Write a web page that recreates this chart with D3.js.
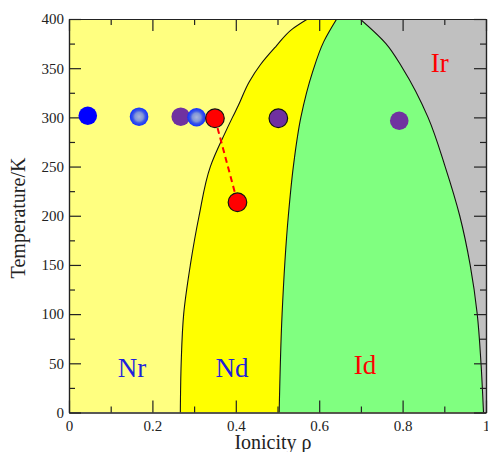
<!DOCTYPE html>
<html>
<head>
<meta charset="utf-8">
<script src="https://cdn.jsdelivr.net/npm/d3@7"></script>
<style>
  html, body { margin: 0; padding: 0; background: #fff; }
  svg { display: block; }
  .ax text { font-family: "Liberation Serif", "Times New Roman", serif !important; font-size: 15px !important; }
</style>
</head>
<body>
<script>
// phase boundaries (temperature K -> ionicity rho)
const ndLeftT   = [0, 50, 100, 150, 200, 250, 284, 300, 312, 336, 353, 372, 390, 400];
const ndLeftRho = [0.267, 0.269, 0.275, 0.291, 0.312, 0.339, 0.374, 0.392, 0.406, 0.432, 0.458, 0.496, 0.536, 0.572];

const idLeftT   = [0, 100, 200, 250, 300, 346, 377, 400];
const idLeftRho = [0.504, 0.511, 0.526, 0.538, 0.556, 0.584, 0.611, 0.642];

const idRightT   = [400, 375, 350, 300, 250, 200, 150, 100, 50, 0];
const idRightRho = [0.698, 0.760, 0.800, 0.861, 0.902, 0.937, 0.962, 0.979, 0.988, 0.994];

// measured points
const blueSolidRho = [0.045];
const blueSolidT   = [301.7];
const blueRingRho  = [0.168, 0.306];
const blueRingT    = [300.7, 300.1];
const purpleRho    = [0.268, 0.792];
const purpleT      = [300.7, 296.6];
const purpleEdgeRho = [0.502];
const purpleEdgeT   = [299.1];
const redRho = [0.350, 0.404];
const redT   = [299.1, 213.7];

// axes
const xMajor = [0, 0.2, 0.4, 0.6, 0.8, 1];
const xMinor = [0.1, 0.3, 0.5, 0.7, 0.9];
const xTickLabels = ["0", "0.2", "0.4", "0.6", "0.8", "1"];
const yMajor = [0, 50, 100, 150, 200, 250, 300, 350, 400];
const yMinor = [25, 75, 125, 175, 225, 275, 325, 375];

const phaseNames = ["Nr", "Nd", "Id", "Ir"];
const phaseRho   = [0.151, 0.391, 0.710, 0.889];
const phaseT     = [36, 36, 39, 346];

const W = 488, H = 452;
const mLeft = 69, mRight = 486, mTop = 19, mBottom = 412.5;
const serif = "'Liberation Serif', 'Times New Roman', serif";

const svg = d3.select("body").append("svg")
  .attr("width", W).attr("height", H);

const x = d3.scaleLinear().domain([0, 1]).range([mLeft, mRight]);
const y = d3.scaleLinear().domain([0, 400]).range([mBottom, mTop]);

const pts = (rho, t) => rho.map((r, i) => [r, t[i]]);
const curve = d3.line()
  .x(d => x(d[0])).y(d => y(d[1]))
  .curve(d3.curveMonotoneY);

const defs = svg.append("defs");
defs.append("clipPath").attr("id", "plot")
  .append("rect")
  .attr("x", mLeft).attr("y", mTop)
  .attr("width", mRight - mLeft).attr("height", mBottom - mTop);

const grad = defs.append("radialGradient").attr("id", "ring");
grad.append("stop").attr("offset", "0%").attr("stop-color", "#a8b4dc");
grad.append("stop").attr("offset", "45%").attr("stop-color", "#8094d8");
grad.append("stop").attr("offset", "68%").attr("stop-color", "#3a56e8");
grad.append("stop").attr("offset", "100%").attr("stop-color", "#1030ff");

defs.append("filter").attr("id", "soft")
  .append("feGaussianBlur").attr("stdDeviation", 0.6);

const plot = svg.append("g").attr("clip-path", "url(#plot)");

// Nr background
plot.append("rect")
  .attr("x", mLeft).attr("y", mTop)
  .attr("width", mRight - mLeft).attr("height", mBottom - mTop)
  .attr("fill", "#ffff80");

const ndLeft = pts(ndLeftRho, ndLeftT);
const idLeft = pts(idLeftRho, idLeftT);
const idRight = pts(idRightRho, idRightT);

// Nd region
plot.append("path")
  .attr("d", curve(ndLeft) + `L${x(1)},${y(400)}L${x(1)},${y(0)}Z`)
  .attr("fill", "#ffff00");

// Id region
plot.append("path")
  .attr("d", curve(idLeft) + curve(idRight).replace("M", "L") + "Z")
  .attr("fill", "#80ff80");

// Ir region
plot.append("path")
  .attr("d", curve(idRight) + `L${x(1)},${y(0)}L${x(1)},${y(400)}Z`)
  .attr("fill", "#c0c0c0");

// boundary lines
[ndLeft, idLeft, idRight].forEach(b => {
  plot.append("path")
    .attr("d", curve(b))
    .attr("fill", "none")
    .attr("stroke", "#111")
    .attr("stroke-width", 1.1);
});

// phase labels
svg.selectAll("text.phase")
  .data(phaseNames)
  .enter().append("text")
  .attr("class", "phase")
  .attr("x", (d, i) => x(phaseRho[i]))
  .attr("y", (d, i) => y(phaseT[i]))
  .attr("text-anchor", "middle")
  .style("font-family", serif)
  .style("font-size", "27px")
  .attr("fill", (d, i) => i < 2 ? "#1f1fdd" : "#ff0000")
  .text(d => d);

// axes with inward ticks
const fmt = d => xTickLabels[xMajor.indexOf(d)];
function addAxis(axis, tx, ty) {
  const g = svg.append("g")
    .attr("class", "ax")
    .attr("transform", `translate(${tx},${ty})`)
    .call(axis);
  g.attr("font-family", serif).attr("font-size", 15);
  g.selectAll("path, line").style("stroke", "#222").style("stroke-width", "1.2px");
  g.selectAll("text")
    .attr("font-family", serif)
    .attr("font-size", 15)
    .style("fill", "#222");
  return g;
}
addAxis(d3.axisBottom(x).tickValues(xMinor).tickSize(-6).tickSizeOuter(0).tickFormat(""), 0, mBottom);
addAxis(d3.axisBottom(x).tickValues(xMajor).tickSize(-12).tickSizeOuter(0).tickFormat(fmt).tickPadding(8), 0, mBottom);
addAxis(d3.axisTop(x).tickValues(xMinor).tickSize(-6).tickSizeOuter(0).tickFormat(""), 0, mTop);
addAxis(d3.axisTop(x).tickValues(xMajor).tickSize(-12).tickSizeOuter(0).tickFormat(""), 0, mTop);
addAxis(d3.axisLeft(y).tickValues(yMinor).tickSize(-6).tickSizeOuter(0).tickFormat(""), mLeft, 0);
addAxis(d3.axisLeft(y).tickValues(yMajor).tickSize(-12).tickSizeOuter(0).tickFormat(d3.format("d")).tickPadding(5), mLeft, 0);
addAxis(d3.axisRight(y).tickValues(yMinor).tickSize(-6).tickSizeOuter(0).tickFormat(""), mRight, 0);
addAxis(d3.axisRight(y).tickValues(yMajor).tickSize(-12).tickSizeOuter(0).tickFormat(""), mRight, 0);

// dashed red tie line
svg.append("path")
  .attr("d", d3.line().x(d => x(d[0])).y(d => y(d[1]))(pts(redRho, redT)))
  .attr("stroke", "#ff0000")
  .attr("stroke-width", 2)
  .attr("stroke-dasharray", "6,4")
  .attr("fill", "none");

// points
const R = 9.3;
function dots(rho, t, fill, stroke, blur) {
  svg.append("g").selectAll("circle")
    .data(pts(rho, t))
    .enter().append("circle")
    .attr("cx", d => x(d[0]))
    .attr("cy", d => y(d[1]))
    .attr("r", R)
    .attr("fill", fill)
    .attr("stroke", stroke)
    .attr("stroke-width", 1.2)
    .attr("filter", blur ? "url(#soft)" : null);
}
dots(blueSolidRho, blueSolidT, "#0000ff", "none", true);
dots(purpleRho, purpleT, "#7030a0", "none", true);
dots(blueRingRho, blueRingT, "url(#ring)", "none", true);
dots(redRho, redT, "#ff0000", "#111", false);
dots(purpleEdgeRho, purpleEdgeT, "#7030a0", "#111", false);

// axis titles
svg.append("text")
  .attr("x", 273).attr("y", 449)
  .attr("text-anchor", "middle")
  .style("font-family", serif)
  .style("font-size", "20px")
  .attr("fill", "#222")
  .text("Ionicity ρ");

svg.append("text")
  .attr("transform", "translate(25,218) rotate(-90)")
  .attr("text-anchor", "middle")
  .style("font-family", serif)
  .style("font-size", "20px")
  .attr("fill", "#222")
  .text("Temperature/K");
</script>
</body>
</html>
